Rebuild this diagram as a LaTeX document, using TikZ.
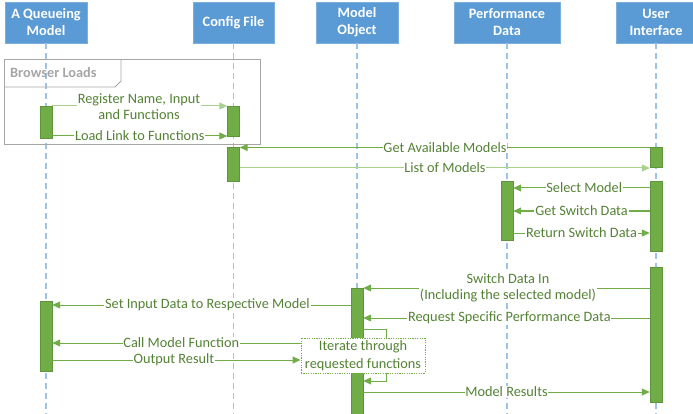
\documentclass[tikz,border=0pt]{standalone}
\usepackage{fontspec}
\setmainfont{Carlito}
\usetikzlibrary{arrows.meta,calc}
\definecolor{hdr}{HTML}{5B9BD5}
\definecolor{life}{HTML}{9DC3E6}
\definecolor{act}{HTML}{70AD47}
\definecolor{msgtxt}{HTML}{548235}
\definecolor{lightln}{HTML}{A9D18E}
\definecolor{frm}{HTML}{A6A6A6}
\tikzset{
  head/.style={draw=hdr!80!white, fill=hdr, text=white, font=\fontsize{14.3}{17}\selectfont\bfseries, align=center, inner sep=0pt, minimum height=41pt},
  lifeline/.style={draw=life, line width=1.4pt, dash pattern=on 6pt off 4pt},
  actbar/.style={draw=act!85!black, line width=0.4pt, fill=act, minimum width=12pt, inner sep=0pt},
  msg/.style={draw=act, line width=1pt, -{Triangle[length=8pt,width=7pt]}},
  msglight/.style={msg, draw=lightln},
  lbl/.style={fill=white, text=msgtxt, font=\fontsize{14.3}{16.5}\selectfont, inner sep=0.8pt, align=center},
  notebox/.style={draw=act, dash pattern=on 1.2pt off 1.2pt, line width=1pt, fill=white, text=msgtxt, font=\fontsize{14.3}{17.5}\selectfont, align=center, inner sep=1pt, minimum width=124pt, minimum height=35pt},
}
\begin{document}
\begin{tikzpicture}[x=1pt,y=-1pt]
\useasboundingbox (0,0) rectangle (693,414);
% headers
\node[head, minimum width=82pt] (hA) at (46,22.5) {A Queueing\\Model};
\node[head, minimum width=81pt] (hC) at (233.5,22.5) {Config File};
\node[head, minimum width=82pt] (hM) at (357,22.5) {Model\\Object};
\node[head, minimum width=106pt] (hP) at (507,22.5) {Performance\\Data};
\node[head, minimum width=80pt] (hU) at (656,22.5) {User\\Interface};
% lifeline ends
\coordinate (eA) at (46,416);
\coordinate (eC) at (233.5,416);
\coordinate (eM) at (357,416);
\coordinate (eP) at (507,416);
\coordinate (eU) at (656,416);
\draw[lifeline] (hA.south) -- (eA);
\draw[lifeline] (hC.south) -- (eC);
\draw[lifeline] (hM.south) -- (eM);
\draw[lifeline] (hP.south) -- (eP);
\draw[lifeline] (hU.south) -- (eU);
% frame
\draw[frm, line width=0.8pt] (4,59) rectangle (260,144);
\draw[frm, line width=0.8pt] (4,87) -- (115,87) -- (121,81) -- (121,59);
\node[anchor=west, text=frm, font=\fontsize{14.3}{16}\selectfont\bfseries, inner sep=0pt] (fl) at (10,73) {Browser Loads};
% activations
\node[actbar, minimum height=32pt] (aq1) at (46,122) {};
\node[actbar, minimum height=30pt] (cf1) at (233.5,121) {};
\node[actbar, minimum height=34pt] (cf2) at (233.5,164) {};
\node[actbar, minimum height=20pt] (ui1) at (656,157) {};
\node[actbar, minimum height=70pt] (ui2) at (656,216) {};
\node[actbar, minimum height=59pt] (pd1) at (507,210.5) {};
\node[actbar, minimum height=135pt] (ui3) at (656,334.5) {};
\node[actbar, minimum height=130pt] (mo1) at (357,353) {};
\node[actbar, minimum height=70pt] (aq2) at (46,336) {};
% messages
\draw[msglight] (aq1.east |- 0,106) -- (cf1.west |- 0,106);
\node[lbl] (l1) at (139,106.5) {Register Name, Input\\and Functions};
\draw[msg] (aq1.east |- 0,136) -- node[lbl, pos=0.5] (l2) {Load Link to Functions} (cf1.west |- 0,136);
\draw[msg] (ui1.west |- 0,147.5) -- (cf2.east |- 0,147.5);
\node[lbl] (l3) at (445,147.5) {Get Available Models};
\draw[msglight] (cf2.east |- 0,168) -- (ui1.west |- 0,168);
\node[lbl] (l4) at (445,168) {List of Models};
\draw[msg] (ui2.west |- 0,188) -- node[lbl, pos=0.48] (l5) {Select Model} (pd1.east |- 0,188);
\draw[msg] (ui2.west |- 0,211) -- node[lbl, pos=0.5] (l6) {Get Switch Data} (pd1.east |- 0,211);
\draw[msg] (pd1.east |- 0,233) -- node[lbl, pos=0.5] (l7) {Return Switch Data} (ui2.west |- 0,233);
\draw[msg] (ui3.west |- 0,288) -- (mo1.east |- 0,288);
\node[lbl] (l8) at (508,288) {Switch Data In\\(Including the selected model)};
\draw[msg] (mo1.west |- 0,305) -- node[lbl, pos=0.48] (l9) {Set Input Data to Respective Model} (aq2.east |- 0,305);
\draw[msg] (ui3.west |- 0,318) -- node[lbl, pos=0.49] (l10) {Request Specific Performance Data} (mo1.east |- 0,318);
% self loop
\coordinate (lp1) at (386,329);
\coordinate (lp2) at (386,381);
\draw[msg] (mo1.east |- 0,329) -- (lp1) -- (lp2) -- (mo1.east |- 0,381);
\node[notebox] (it) at (363,355.5) {Iterate through\\requested functions};
\draw[msg] (it.west |- 0,343) -- node[lbl, pos=0.48] (l12) {Call Model Function} (aq2.east |- 0,343);
\draw[msg] (aq2.east |- 0,360) -- node[lbl, pos=0.49] (l13) {Output Result} (it.west |- 0,360);
\draw[msg] (mo1.east |- 0,392) -- node[lbl, pos=0.5] (l14) {Model Results} (ui3.west |- 0,392);
\end{tikzpicture}
\end{document}
